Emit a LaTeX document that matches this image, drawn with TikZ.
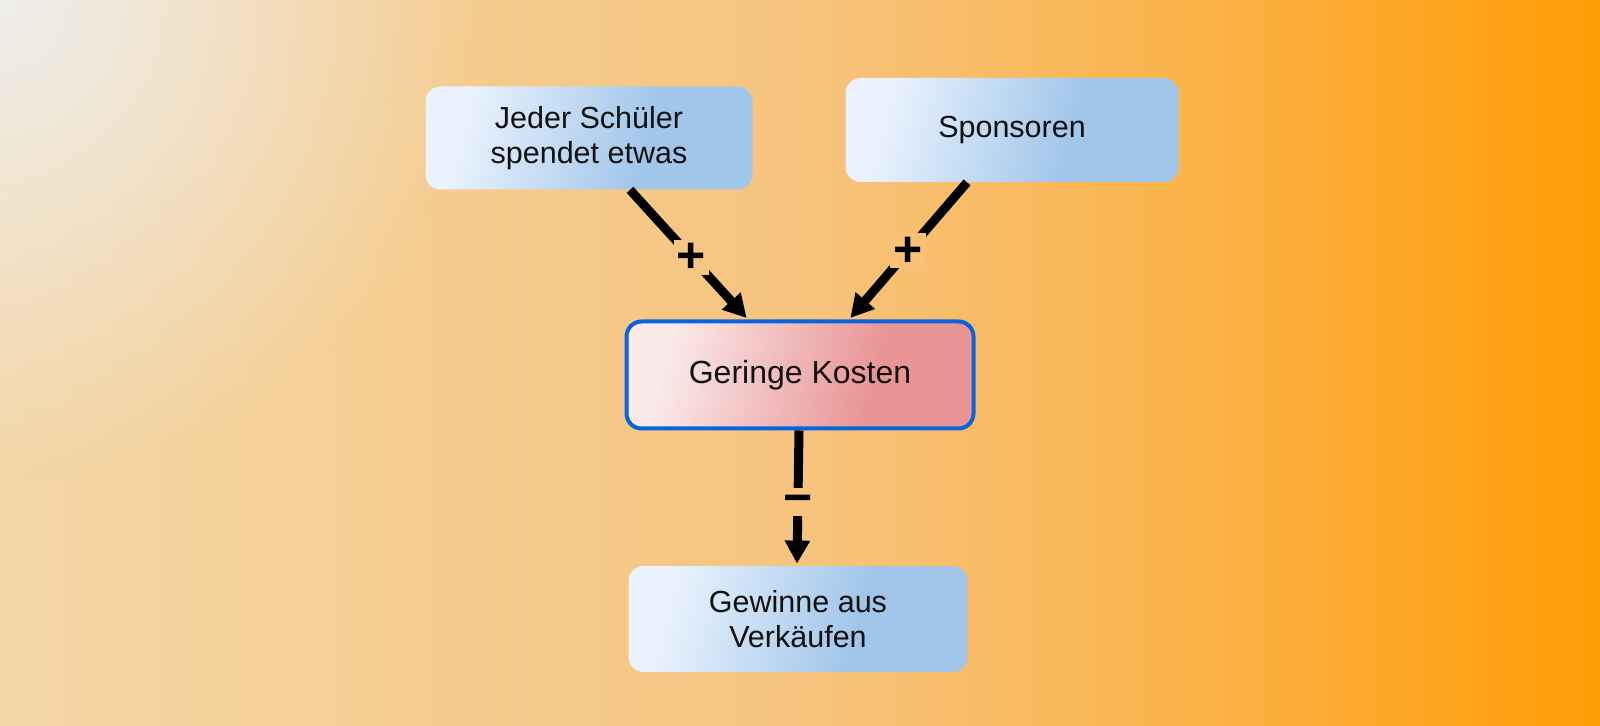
\documentclass[tikz,border=0pt]{standalone}
\usepackage{fontspec}
\setmainfont{Liberation Sans}
\usetikzlibrary{arrows.meta,fadings}
\definecolor{bgA}{HTML}{F4D6A6}
\definecolor{bgB}{HTML}{F6C47E}
\definecolor{bgC}{HTML}{FBB248}
\definecolor{bgD}{HTML}{FF9C06}
\definecolor{glowcol}{HTML}{EFEEEC}
\definecolor{blA}{HTML}{EAF3FD}
\definecolor{blB}{HTML}{A2C6EA}
\definecolor{rdA}{HTML}{FAEAEA}
\definecolor{rdB}{HTML}{E99596}
\definecolor{gborder}{HTML}{0A63DE}
\definecolor{txt}{HTML}{111111}
\definecolor{labA}{HTML}{F6C784}
\definecolor{labB}{HTML}{F7C176}
\definecolor{labC}{HTML}{F6C47C}
\pgfdeclarehorizontalshading{bgshade}{100bp}{color(0bp)=(bgA); color(25bp)=(bgA); color(50bp)=(bgB); color(62.5bp)=(bgC); color(75bp)=(bgD); color(100bp)=(bgD)}
\pgfdeclarehorizontalshading{blueshade}{100bp}{color(0bp)=(blA); color(27bp)=(blA); color(60bp)=(blB); color(100bp)=(blB)}
\pgfdeclarehorizontalshading{redshade}{100bp}{color(0bp)=(rdA); color(27bp)=(rdA); color(62bp)=(rdB); color(100bp)=(rdB)}
\tikzfading[name=glow, inner color=transparent!0, outer color=transparent!100]
\begin{document}
\begin{tikzpicture}[x=0.5pt,y=-0.5pt,
  box/.style={rectangle, rounded corners=7.5pt, align=center, text=txt,
    font=\fontsize{15.25}{17.5}\selectfont},
  bluebox/.style={box, shade, shading=blueshade, shading angle=-15},
  redbox/.style={box, shade, shading=redshade, shading angle=-15, draw=gborder, line width=2pt,
    font=\fontsize{16}{18}\selectfont},
  conn/.style={line width=4.5pt, draw=black, -{Triangle[length=11.5pt,width=12pt]}, shorten >=1pt},
  lbl/.style={font=\bfseries\fontsize{25}{25}\selectfont, inner xsep=1.5pt, inner ysep=1pt, text=black},
  pluslbl/.style={lbl, text height=15.5pt, text depth=-2pt},
  minuslbl/.style={lbl, text height=12.3pt, text depth=-5pt}]
\useasboundingbox (0,0) rectangle (1600,726);
\shade[shading=bgshade] (0,0) rectangle (1600,726);
\fill[glowcol, path fading=glow] (0,0) circle (480);

\node[bluebox, minimum width=163.5pt, minimum height=51.5pt] (j) at (589,138) {Jeder Schüler\\spendet etwas};
\node[bluebox, minimum width=166.5pt, minimum height=52pt] (s) at (1012,130) {Sponsoren};
\node[redbox, minimum width=173.5pt, minimum height=53.5pt] (g) at (800,375) {Geringe Kosten};
\node[bluebox, minimum width=169.5pt, minimum height=53pt] (w) at (798,619) {Gewinne aus\\Verkäufen};

\draw[conn] ([xshift=20.5pt]j.south) -- node[pluslbl, fill=labA, pos=0.52] {+} ([xshift=-26pt]g.north);
\draw[conn] ([xshift=-22.5pt]s.south) -- node[pluslbl, fill=labB, pos=0.5] {+} ([xshift=24.5pt]g.north);
\draw[conn] ([xshift=-0.5pt]g.south) -- node[minuslbl, fill=labC, pos=0.53] {−} ([xshift=-0.5pt]w.north);
\end{tikzpicture}
\end{document}
